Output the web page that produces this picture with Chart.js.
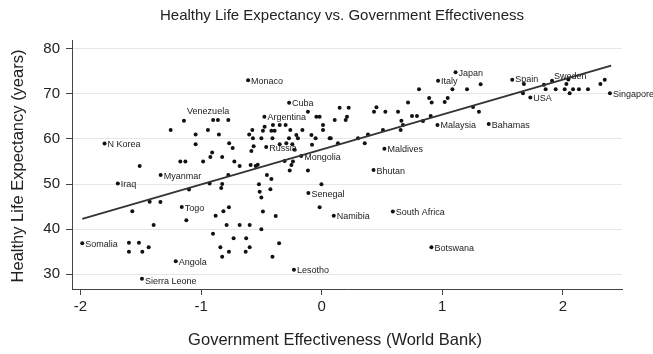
<!DOCTYPE html>
<html>
<head>
<meta charset="utf-8">
<script src="https://cdn.jsdelivr.net/npm/chart.js@4/dist/chart.umd.min.js"></script>
<style>
  html, body { margin: 0; padding: 0; background: #fff; }
  #wrap { width: 653px; height: 354px; }
</style>
</head>
<body>
<div id="wrap"><canvas id="c" width="653" height="354"></canvas></div>
<script>
// Labelled countries: government effectiveness score and healthy life expectancy (years)
const countryNames = ['Monaco', 'Venezuela', 'N Korea', 'Cuba', 'Argentina', 'Russia', 'Mongolia',
  'Myanmar', 'Iraq', 'Togo', 'Somalia', 'Angola', 'Sierra Leone', 'Lesotho', 'Senegal', 'Namibia',
  'South Africa', 'Botswana', 'Bhutan', 'Maldives', 'Malaysia', 'Italy', 'Japan', 'Bahamas',
  'Spain', 'USA', 'Sweden', 'Singapore'];
const countryGE = [-0.61, -0.90, -1.80, -0.27, -0.475, -0.46, -0.17,
  -1.335, -1.69, -1.16, -1.985, -1.21, -1.49, -0.23, -0.11, 0.10,
  0.59, 0.91, 0.43, 0.52, 0.96, 0.965, 1.11, 1.385,
  1.58, 1.73, 1.91, 2.39];
const countryHALE = [73.0, 64.2, 59.0, 68.0, 64.9, 58.2, 56.2,
  52.0, 50.1, 44.9, 36.9, 32.9, 29.0, 31.0, 48.0, 43.0,
  43.9, 36.0, 53.1, 57.8, 63.1, 72.9, 74.8, 63.3,
  73.1, 69.2, 72.9, 70.1];

// Remaining (unlabelled) countries
const otherGE = [1.677, 1.669, 1.843, 1.857, 1.940, 2.015, 2.029, 2.045, 2.056, 2.084, 2.133, 2.208, 2.311, 2.347,
  1.084, 1.205, 1.318, 1.020, 1.045, 1.255, 1.304,
  0.807, 0.891, 0.912, 0.716, 0.454, 0.434, 0.528, 0.633, 0.749, 0.790, 0.904, 0.661, 0.674, 0.655, 0.840,
  0.508, 0.384, 0.357, 0.301,
  0.149, 0.224, 0.210, 0.108, 0.199, 0.135, 0.011, 0.011, 0.066, 0.075, -0.002, -0.017,
  -0.114, -0.044, -0.017, -0.085, -0.160, -0.260, -0.210, -0.197, -0.271, -0.050, -0.293, -0.243, -0.080,
  -0.224, -0.307, -0.251, -0.238, -0.265, -0.114, -0.299, -0.348,
  -0.404, -0.473, -0.487, -0.417, -0.390, -0.575, -0.408, -0.500, -0.570, -0.348, -0.564, -0.583,
  -0.547, -0.530, -0.589, -0.454, -0.417, -0.520, -0.514, -0.425, -0.500, -0.487, -0.381, -0.500,
  -0.597, -0.597, -0.353, -0.408,
  -1.142, -0.860, -0.774, -1.252, -0.943, -1.045, -0.852, -1.045, -0.767, -0.738, -0.601,
  -0.908, -0.923, -0.825, -1.172, -1.130, -0.983, -0.724, -0.680, -1.509, -0.774,
  -1.100, -0.929, -0.825, -0.833, -1.426, -1.337, -1.570, -1.393, -1.122, -0.879, -0.815, -0.769,
  -0.788, -0.680, -0.901, -0.730, -0.626, -0.840, -0.769, -0.630, -0.825,
  -1.598, -1.515, -1.598, -1.487, -1.434];
const otherHALE = [72.2, 70.1, 72.0, 71.0, 71.0, 71.0, 72.2, 73.2, 70.1, 71.0, 71.0, 71.0, 72.2, 73.1,
  71.0, 71.0, 72.1, 68.2, 69.1, 67.1, 66.05,
  71.0, 69.1, 68.1, 68.1, 67.0, 66.05, 66.05, 66.05, 65.1, 65.1, 65.1, 64.05, 63.1, 62.0, 64.0,
  62.0, 61.0, 59.05, 60.15,
  66.9, 66.9, 64.9, 64.2, 64.2, 59.05, 63.1, 62.0, 60.15, 60.15, 49.95, 44.86,
  66.05, 64.9, 64.9, 60.9, 62.0, 62.0, 60.9, 60.15, 60.15, 60.15, 59.05, 58.8, 58.7,
  57.6, 55.1, 54.2, 55.0, 53.0, 53.0, 63.1, 63.1,
  63.1, 62.7, 61.8, 61.8, 61.8, 62.0, 60.15, 60.15, 60.15, 58.8, 58.4, 57.3,
  54.0, 54.3, 54.2, 52.0, 51.1, 49.95, 48.3, 48.85, 47.0, 43.9, 42.9, 40.0,
  40.9, 36.0, 36.9, 33.9,
  64.05, 64.2, 64.2, 62.0, 62.0, 61.0, 61.0, 58.8, 59.05, 58.0, 61.0,
  57.0, 56.0, 56.0, 55.0, 55.0, 55.0, 55.0, 54.0, 54.0, 52.0,
  48.8, 50.1, 50.0, 49.1, 46.1, 46.0, 44.0, 40.9, 42.0, 43.0, 44.0, 44.86,
  40.9, 40.9, 39.0, 38.0, 38.0, 36.0, 35.0, 35.0, 33.9,
  37.0, 37.0, 35.0, 35.0, 36.0];

// Fitted line end points
const fitGE = [-1.985, 2.40];
const fitHALE = [42.3, 76.25];

// Axis ticks
const xTicks = [-2, -1, 0, 1, 2];
const yTicks = [30, 40, 50, 60, 70, 80];

// Where each country name sits relative to its dot (pixels)
const labelPlacement = {
  'Venezuela': { dx: -5, dy: -8, align: 'center' },
  'Sierra Leone': { dx: 3, dy: 3 },
  'Sweden': { dx: 2, dy: -4 },
  'Spain': { dx: 3, dy: 0 }
};

const FONT = '"Liberation Sans", Arial, Helvetica, sans-serif';
const INK = '#222';

const toPoints = (xs, ys) => xs.map((x, i) => ({ x: x, y: ys[i] }));

const textPlugin = {
  id: 'textLayer',
  afterDatasetsDraw(chart) {
    const ctx = chart.ctx;
    const meta = chart.getDatasetMeta(1);
    ctx.save();
    ctx.font = '9px ' + FONT;
    ctx.fillStyle = INK;
    ctx.textBaseline = 'middle';
    meta.data.forEach((el, i) => {
      const name = countryNames[i];
      const p = labelPlacement[name] || {};
      const dx = p.dx !== undefined ? p.dx : 3;
      const dy = p.dy !== undefined ? p.dy : 1;
      ctx.textAlign = p.align || 'left';
      ctx.fillText(name, el.x + dx, el.y + dy);
    });
    ctx.restore();
  },
  afterDraw(chart) {
    const ctx = chart.ctx;
    ctx.save();
    ctx.fillStyle = INK;
    ctx.textAlign = 'center';
    ctx.textBaseline = 'middle';
    ctx.font = '15px ' + FONT;
    ctx.fillText('Healthy Life Expectancy vs. Government Effectiveness', 342, 16);
    ctx.font = '16.5px ' + FONT;
    ctx.fillText('Government Effectiveness (World Bank)', 335, 340);
    ctx.translate(18, 166);
    ctx.rotate(-Math.PI / 2);
    ctx.fillText('Healthy Life Expectancy (years)', 0, 0);
    ctx.restore();
  }
};

new Chart(document.getElementById('c'), {
  type: 'scatter',
  data: {
    datasets: [
      {
        data: toPoints(otherGE, otherHALE),
        pointRadius: 2,
        pointBackgroundColor: '#111',
        pointBorderWidth: 0,
        order: 2
      },
      {
        data: toPoints(countryGE, countryHALE),
        pointRadius: 2,
        pointBackgroundColor: '#111',
        pointBorderWidth: 0,
        order: 2
      },
      {
        type: 'line',
        data: toPoints(fitGE, fitHALE),
        borderColor: '#333',
        borderWidth: 1.8,
        pointRadius: 0,
        fill: false,
        order: 1
      }
    ]
  },
  options: {
    responsive: false,
    animation: false,
    devicePixelRatio: 1,
    layout: { padding: { top: 40, right: 31, left: 0, bottom: 0 } },
    plugins: {
      legend: { display: false },
      tooltip: { enabled: false },
      title: { display: false }
    },
    scales: {
      x: {
        type: 'linear',
        min: -2.07,
        max: 2.49,
        afterBuildTicks: s => { s.ticks = xTicks.map(v => ({ value: v })); },
        afterFit: s => { s.height = 65; },
        grid: { drawOnChartArea: false, drawTicks: true, tickLength: 6, tickColor: '#444', tickWidth: 1 },
        border: { color: '#444', width: 1 },
        ticks: { color: INK, font: { size: 15, family: FONT }, padding: 3, maxRotation: 0 }
      },
      y: {
        type: 'linear',
        min: 26.74,
        max: 81.93,
        afterBuildTicks: s => { s.ticks = yTicks.map(v => ({ value: v })); },
        afterFit: s => { s.width = 72; },
        grid: { color: '#e6e6e6', lineWidth: 1, drawTicks: true, tickLength: 6, tickColor: '#444', tickWidth: 1 },
        border: { color: '#444', width: 1 },
        ticks: { color: INK, font: { size: 15, family: FONT }, padding: 6 }
      }
    }
  },
  plugins: [textPlugin]
});
</script>
</body>
</html>
